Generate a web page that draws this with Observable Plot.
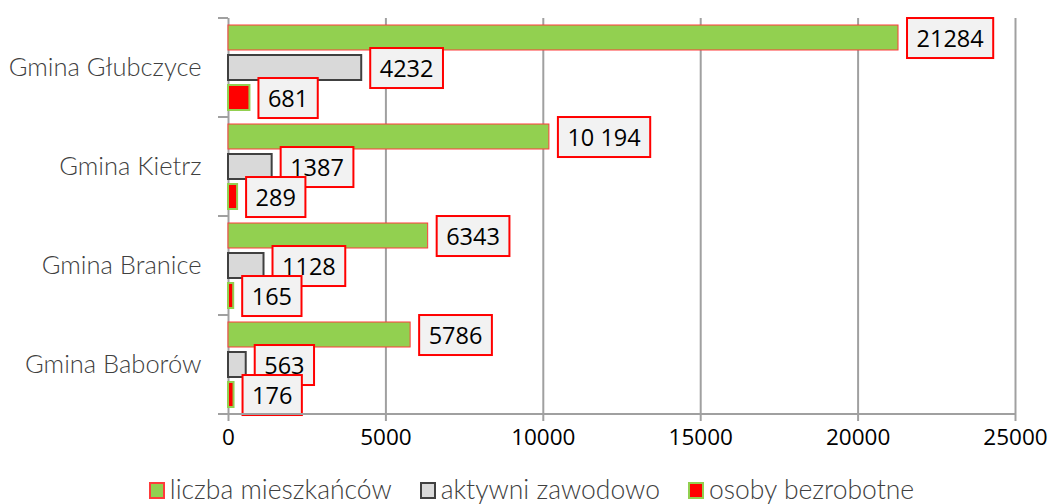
<!DOCTYPE html>
<html><head><meta charset="utf-8">
<script src="https://cdn.jsdelivr.net/npm/d3@7"></script>
<script src="https://cdn.jsdelivr.net/npm/@observablehq/plot@0.6"></script>
<style>
body{margin:0;background:#fff;}
#chart svg{display:block;}
#legend{display:flex;justify-content:center;align-items:center;gap:28px;font:300 26.5px Lato, "Open Sans", sans-serif;color:#404040;margin-top:4px;margin-left:10px;line-height:30px;}
#legend .it{display:flex;align-items:center;}
#legend .sw{display:inline-block;width:12px;height:13px;margin-right:5px;margin-top:2px;}
</style></head><body><div id="chart"></div><div id="legend"></div>
<script>
const groups = ["Gmina Głubczyce", "Gmina Kietrz", "Gmina Branice", "Gmina Baborów"];
const series = ["liczba mieszkańców", "aktywni zawodowo", "osoby bezrobotne"];
const mieszkancy = [21284, 10194, 6343, 5786];
const aktywni = [4232, 1387, 1128, 563];
const bezrobotni = [681, 289, 165, 176];
const mieszkancyLabels = ["21284", "10 194", "6343", "5786"];
const aktywniLabels = ["4232", "1387", "1128", "563"];
const bezrobotniLabels = ["681", "289", "165", "176"];
const xTicks = [0, 5000, 10000, 15000, 20000, 25000];

const styles = [
  {fill: "#92d050", stroke: "#ff3b3b", strokeWidth: 1},
  {fill: "#d9d9d9", stroke: "#404040", strokeWidth: 2},
  {fill: "#ff0000", stroke: "#92d050", strokeWidth: 2}
];
const values = [mieszkancy, aktywni, bezrobotni];
const labels = [mieszkancyLabels, aktywniLabels, bezrobotniLabels];
const rows = [];
series.forEach((s, si) => groups.forEach((g, gi) =>
  rows.push({group: g, series: s, value: values[si][gi], label: labels[si][gi]})));

const font = "'Open Sans', sans-serif";
const plot = Plot.plot({
  width: 1053, height: 470,
  marginLeft: 228, marginRight: 38, marginTop: 17, marginBottom: 55,
  x: {domain: [0, 25000]},
  y: {domain: series, paddingInner: 0.18, paddingOuter: 0.19, axis: null},
  fy: {domain: groups, padding: 0},
  style: {background: "white", fontFamily: font, overflow: "visible"},
  marks: [
    Plot.gridX(xTicks, {stroke: "#a0a0a0", strokeWidth: 2, strokeOpacity: 1}),
    Plot.axisX(xTicks, {tickSize: 7, tickPadding: 8, stroke: "#a0a0a0", strokeWidth: 2, fontSize: 22.5, fill: "#000", label: null, tickFormat: d => String(d)}),
    Plot.axisFy({anchor: "left", tickSize: 0, tickPadding: 27, fontSize: 25.5, label: null, fill: "#404040", fontFamily: "Lato", fontWeight: 300}),
    ...series.map((s, si) => Plot.barX(rows.filter(d => d.series === s), {
      fy: "group", y: "series", x: "value", ...styles[si]
    })),
    Plot.text(rows, {fy: "group", y: "series", x: "value", text: "label", textAnchor: "start",
      dx: 18, dy: 1, fontSize: 23.5, fill: "#000", className: "lbl"})
  ]
});
document.getElementById("chart").append(plot);

// label boxes
d3.select(plot).selectAll("g.lbl text").each(function () {
  const b = this.getBBox();
  const r = document.createElementNS("http://www.w3.org/2000/svg", "rect");
  const h = 40;
  r.setAttribute("x", b.x - 9.5);
  r.setAttribute("y", b.y + b.height / 2 - h / 2 + 0.5);
  r.setAttribute("width", b.width + 19);
  r.setAttribute("height", h);
  r.setAttribute("fill", "#f2f2f2");
  r.setAttribute("stroke", "#ff0000");
  r.setAttribute("stroke-width", 2);
  if (this.getAttribute("transform")) r.setAttribute("transform", this.getAttribute("transform"));
  this.parentNode.insertBefore(r, this);
});

// category boundary ticks and bottom axis line
const fy = plot.scale("fy"), xs = plot.scale("x");
const x0 = xs.apply(0), x1 = xs.apply(25000);
const g = d3.select(plot).append("g").attr("stroke", "#a0a0a0").attr("stroke-width", 2);
groups.forEach(gr => {
  const yy = fy.apply(gr);
  g.append("line").attr("x1", x0 - 10).attr("x2", x0).attr("y1", yy).attr("y2", yy);
});
const yb = fy.apply(groups[groups.length - 1]) + fy.bandwidth;
g.append("line").attr("x1", x0 - 10).attr("x2", x1).attr("y1", yb).attr("y2", yb);

// legend
const leg = d3.select("#legend");
series.forEach((s, si) => {
  const it = leg.append("div").attr("class", "it");
  it.append("span").attr("class", "sw")
    .style("background", styles[si].fill)
    .style("border", `2px solid ${si === 0 ? "#ff3b3b" : styles[si].stroke}`);
  it.append("span").text(s);
});
</script></body></html>
